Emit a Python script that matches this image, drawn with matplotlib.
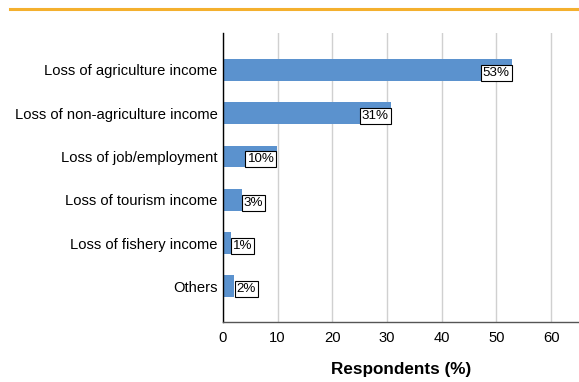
"""Horizontal bar chart of reported income losses."""

import matplotlib.pyplot as plt
from matplotlib.lines import Line2D

plt.rcParams['font.family'] = ['Liberation Sans', 'DejaVu Sans']

categories = [
    'Loss of agriculture income',
    'Loss of non-agriculture income',
    'Loss of job/employment',
    'Loss of tourism income',
    'Loss of fishery income',
    'Others',
]
respondents = [52.8, 30.7, 9.8, 3.4, 1.4, 2.1]
x_ticks = [0, 10, 20, 30, 40, 50, 60]

BAR_COLOR = '#5B92CE'
ACCENT = '#F4B02E'

fig = plt.figure(figsize=(5.79, 3.82), dpi=100)
ax = fig.add_axes([223 / 579, 1 - 321.5 / 382, 1 - 223 / 579, (321.5 - 33) / 382])

ypos = list(range(len(categories)))
ax.barh(ypos, respondents, height=0.5, color=BAR_COLOR, zorder=2)

# value labels: inside the bar end for long bars, just past it for short ones
for y, v in zip(ypos, respondents):
    label = '{:.0f}%'.format(v)
    if v > 8:
        xy_off, ha = (-1.6, -2), 'right'
    else:
        xy_off, ha = (1.6, -2), 'left'
    ax.annotate(label, xy=(v, y), xytext=xy_off, textcoords='offset points',
                ha=ha, va='center', fontsize=9.6, zorder=3,
                bbox=dict(boxstyle='square,pad=0.15', fc='white', ec='black', lw=0.8))

ax.set_yticks(ypos)
ax.set_yticklabels(categories, fontsize=10.6)
ax.set_ylim(5.814, -0.855)
ax.set_xlim(0, 65.1)
ax.set_xticks(x_ticks)
ax.set_xticklabels([str(t) for t in x_ticks], fontsize=10.6)
ax.tick_params(axis='both', length=0, pad=4)
ax.tick_params(axis='x', pad=7)

ax.grid(axis='x', color='#D0D0D0', lw=1.0, zorder=0)
ax.set_axisbelow(True)
for side in ('top', 'right'):
    ax.spines[side].set_visible(False)
ax.spines['left'].set_color('black')
ax.spines['left'].set_linewidth(1.0)
ax.spines['bottom'].set_color('#555555')
ax.spines['bottom'].set_linewidth(1.0)

ax.set_xlabel('Respondents (%)', fontsize=12.3, fontweight='bold', labelpad=12)

# accent rule across the top
fig.add_artist(Line2D([10 / 579, 1.0], [1 - 9 / 382] * 2, color=ACCENT, lw=2.2))

fig.savefig('out.png', dpi=100)
